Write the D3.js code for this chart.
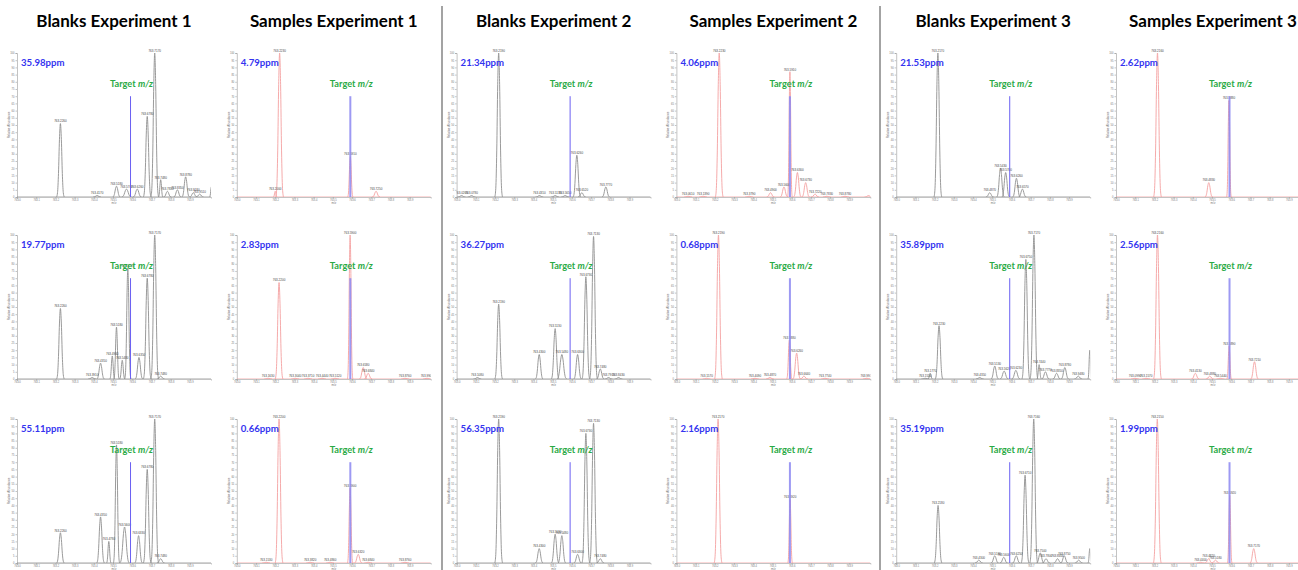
<!DOCTYPE html>
<html>
<head>
<meta charset="utf-8">
<script src="https://cdn.jsdelivr.net/npm/d3@7"></script>
<style>
  body { margin: 0; background: #fff; }
  text { font-family: "Liberation Sans", Arial, sans-serif; }
  .title { font-family: Lato, "Open Sans", sans-serif; font-weight: 700; font-size: 17px; fill: #000; }
  .ppm { font-family: Lato, sans-serif; font-weight: 700; font-size: 9.6px; fill: #3434f0; }
  .target { font-family: Lato, sans-serif; font-weight: 700; font-size: 9.2px; fill: #2aaa45; }
  .axis path, .axis line { stroke: #9a9a9a; stroke-width: 0.6; }
  .axis text { font-size: 2.6px; fill: #777; }
  .peak-label { font-size: 3px; fill: #444; }
  .axis-title { font-size: 3px; fill: #777; }
</style>
</head>
<body>
<svg id="chart" width="1298" height="570"></svg>
<script>
// column titles, blanks and samples alternate
const titles = ["Blanks Experiment 1", "Samples Experiment 1", "Blanks Experiment 2",
  "Samples Experiment 2", "Blanks Experiment 3", "Samples Experiment 3"];

// mass error shown in each panel, one list per column (rows 1-3)
const ppmValues = [
  [35.98, 19.77, 55.11],
  [4.79, 2.83, 0.66],
  [21.34, 36.27, 56.35],
  [4.06, 0.68, 2.16],
  [21.53, 35.89, 35.19],
  [2.62, 2.56, 1.99]
];

const xTicks = [763.0, 763.1, 763.2, 763.3, 763.4, 763.5, 763.6, 763.7, 763.8, 763.9];
const yTicks = [0, 5, 10, 15, 20, 25, 30, 35, 40, 45, 50, 55, 60, 65, 70, 75, 80, 85, 90, 95, 100];

const targetMz = 763.591;
const targetLevel = 70;

// peaks: [m/z, relative abundance, half width (optional)]
const blanks1 = [
  [[763.226, 51], [763.417, 1], [763.518, 7.5], [763.570, 5.5, 0.025], [763.626, 5.5, 0.022],
   [763.678, 56], [763.717, 100], [763.748, 12, 0.012], [763.783, 4], [763.835, 5],
   [763.878, 14], [763.918, 3], [763.951, 2], [764.012, 7, 0.01]],
  [[763.226, 49], [763.391, 1], [763.435, 11], [763.496, 16, 0.013], [763.518, 36, 0.014],
   [763.548, 13, 0.014], [763.577, 77, 0.016], [763.635, 15, 0.02], [763.678, 70],
   [763.717, 100], [763.748, 2]],
  [[763.226, 21], [763.435, 32], [763.478, 15, 0.012], [763.518, 82, 0.016], [763.560, 25, 0.025],
   [763.633, 19, 0.02], [763.678, 65], [763.717, 100], [763.748, 3]]
];

const samples1 = [
  [[763.200, 4, 0.01], [763.223, 100], [763.591, 28, 0.014], [763.725, 4]],
  [[763.163, 0.5], [763.220, 67], [763.304, 0.5], [763.371, 0.5], [763.444, 0.5], [763.512, 0.5],
   [763.590, 100, 0.014], [763.658, 8], [763.684, 4], [763.876, 0.5], [763.990, 0.5]],
  [[763.153, 0.5], [763.220, 100], [763.382, 0.5], [763.486, 0.5], [763.590, 52, 0.014],
   [763.632, 6], [763.684, 0.5], [763.876, 0.5]]
];

const blanks2 = [
  [[763.026, 1], [763.078, 1], [763.219, 100], [763.431, 1], [763.513, 1], [763.565, 1],
   [763.626, 29], [763.652, 3], [763.777, 7]],
  [[763.108, 1], [763.219, 52], [763.430, 17], [763.513, 35], [763.548, 17, 0.025], [763.630, 17],
   [763.673, 71], [763.713, 99], [763.748, 7], [763.791, 1], [763.843, 1]],
  [[763.219, 100], [763.430, 10], [763.513, 20], [763.548, 19], [763.630, 6], [763.673, 90],
   [763.713, 97], [763.748, 3]]
];

const samples2 = [
  [[763.061, 0.5], [763.139, 0.5], [763.223, 100], [763.379, 0.5], [763.490, 3], [763.560, 7],
   [763.591, 87, 0.012], [763.630, 17], [763.673, 10], [763.722, 2], [763.783, 0.5],
   [763.878, 0.5], [764.000, 1]],
  [[763.157, 0.5], [763.219, 100], [763.409, 0.5], [763.487, 1], [763.588, 27, 0.014],
   [763.626, 18], [763.664, 2], [763.774, 0.5], [763.991, 0.5]],
  [[763.217, 100], [763.592, 44, 0.012]]
];

const blanks3 = [
  [[763.217, 100], [763.487, 3], [763.543, 20], [763.570, 17], [763.626, 13], [763.657, 5.5]],
  [[763.151, 0.5], [763.177, 4, 0.012], [763.223, 37], [763.435, 1], [763.513, 9], [763.562, 5.5, 0.022],
   [763.623, 6, 0.022], [763.675, 83], [763.717, 100], [763.744, 10, 0.012], [763.777, 5],
   [763.835, 4], [763.878, 8], [763.948, 2], [764.008, 20, 0.01]],
  [[763.218, 40], [763.430, 2], [763.513, 5], [763.560, 4], [763.625, 5], [763.671, 61],
   [763.716, 100], [763.750, 7], [763.780, 3], [763.840, 3], [763.875, 5], [763.950, 2],
   [764.008, 10, 0.01]]
];

const samples3 = [
  [[763.216, 100], [763.483, 10], [763.588, 67, 0.012]],
  [[763.099, 0.5], [763.157, 0.5], [763.216, 100], [763.413, 4], [763.488, 2], [763.544, 0.5],
   [763.589, 23, 0.012], [763.721, 12]],
  [[763.215, 100], [763.440, 0.5], [763.482, 3], [763.518, 2], [763.592, 47, 0.012], [763.717, 10]]
];

const columns = [blanks1, samples1, blanks2, samples2, blanks3, samples3];

// layout
const panelW = 194, panelH = 144;
const colLeft = (c) => 17 + 219.8 * c;
const rowTop = [53, 235, 419];
const defaultHalfWidth = 0.02;
// normalised profile of a single peak
const peakShape = [[-1, 0], [-0.75, 0.06], [-0.5, 0.32], [-0.25, 0.78], [0, 1],
  [0.25, 0.78], [0.5, 0.32], [0.75, 0.06], [1, 0]];

const svg = d3.select("#chart");
const fmt = d3.format(".4f");

const x = d3.scaleLinear().domain([763.0, 764.01]).range([0, panelW]);
const y = d3.scaleLinear().domain([0, 100]).range([panelH, 0]);

// separators between experiments
svg.selectAll("line.sep")
  .data([442, 880])
  .enter()
  .append("line")
  .attr("x1", (d) => d).attr("x2", (d) => d)
  .attr("y1", 6).attr("y2", 570)
  .attr("stroke", "#a3a3a3")
  .attr("stroke-width", 2);

svg.selectAll("text.title")
  .data(titles)
  .enter()
  .append("text")
  .attr("class", "title")
  .attr("x", (d, i) => colLeft(i) + 97)
  .attr("y", 27)
  .attr("text-anchor", "middle")
  .text((d) => d);

columns.forEach((rows, c) => {
  const isSample = c % 2 === 1;
  const traceColor = isSample ? "#f4a0a0" : "#8e8e8e";

  rows.forEach((peaks, r) => {
    const g = svg.append("g")
      .attr("transform", `translate(${colLeft(c)},${rowTop[r]})`);

    const clipId = `clip-${c}-${r}`;
    g.append("clipPath").attr("id", clipId)
      .append("rect").attr("x", 0).attr("y", -12).attr("width", panelW).attr("height", panelH + 12);

    g.append("g")
      .attr("class", "axis")
      .attr("transform", `translate(0,${panelH})`)
      .call(d3.axisBottom(x).tickValues(xTicks).tickSize(1.5).tickPadding(1).tickFormat(d3.format(".1f")));

    g.append("g")
      .attr("class", "axis")
      .call(d3.axisLeft(y).tickValues(yTicks).tickSize(1.5).tickPadding(1));

    g.append("text")
      .attr("class", "axis-title")
      .attr("transform", `translate(-7,${panelH / 2}) rotate(-90)`)
      .attr("text-anchor", "middle")
      .text("Relative Abundance");

    g.append("text")
      .attr("class", "axis-title")
      .attr("x", panelW / 2)
      .attr("y", panelH + 6.5)
      .attr("text-anchor", "middle")
      .text("m/z");

    const traces = g.append("g").attr("clip-path", `url(#${clipId})`);

    traces.append("line")
      .attr("x1", 0).attr("x2", panelW)
      .attr("y1", y(0)).attr("y2", y(0))
      .attr("stroke", traceColor)
      .attr("stroke-width", 0.8);

    traces.selectAll("path.peak")
      .data(peaks)
      .enter()
      .append("path")
      .attr("fill", "none")
      .attr("stroke", traceColor)
      .attr("stroke-width", 0.9)
      .attr("d", (p) => {
        const w = p[2] || defaultHalfWidth;
        return d3.line()
          .x((s) => x(p[0] + s[0] * w))
          .y((s) => y(p[1] * s[1]))
          .curve(d3.curveMonotoneX)(peakShape);
      });

    traces.selectAll("text.peak-label")
      .data(peaks.filter((p) => p[0] < 764.0))
      .enter()
      .append("text")
      .attr("class", "peak-label")
      .attr("x", (p) => x(p[0]))
      .attr("y", (p) => y(p[1]) - 1.2)
      .attr("text-anchor", "middle")
      .text((p) => fmt(p[0]));

    // target m/z marker
    g.append("line")
      .attr("x1", x(targetMz)).attr("x2", x(targetMz))
      .attr("y1", y(0)).attr("y2", y(targetLevel))
      .attr("stroke", isSample ? "#8c88f2" : "#6a60f2")
      .attr("stroke-width", isSample ? 2 : 1)
      .attr("opacity", isSample ? 0.85 : 1);

    const label = g.append("text")
      .attr("class", "target")
      .attr("x", x(targetMz) + 1)
      .attr("y", y(targetLevel) - 9)
      .attr("text-anchor", "middle");
    label.append("tspan").text("Target ");
    label.append("tspan").attr("font-style", "italic").text("m/z");

    g.append("text")
      .attr("class", "ppm")
      .attr("x", 4)
      .attr("y", 13)
      .text(`${ppmValues[c][r].toFixed(2)}ppm`);
  });
});
</script>
</body>
</html>
